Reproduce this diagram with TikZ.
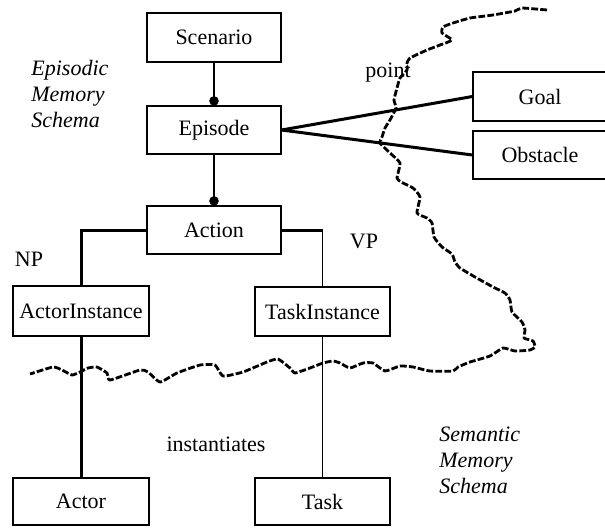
\documentclass[tikz,border=0pt]{standalone}
\usepackage{fontspec}
\setmainfont{Liberation Serif}
\usetikzlibrary{calc}
\begin{document}
\begin{tikzpicture}[x=0.5pt,y=-0.5pt,
  font=\fontsize{11}{13}\selectfont,
  box/.style={draw, line width=0.6pt, fill=white, inner sep=0pt,
              minimum width=67pt, minimum height=24pt},
  thinlink/.style={line width=0.6pt},
  thicklink/.style={line width=1.5pt},
  joint/.style={fill=black},
  label/.style={inner sep=0pt},
  schema/.style={inner sep=0pt, align=left, anchor=west,
                 font=\fontsize{11}{13}\selectfont\itshape},
  boundary/.style={line width=1.4pt, dash pattern=on 3.4pt off 1.1pt,
                   line join=round}]
\clip (0,0) rectangle (605,527);

% entity boxes
\node[box, minimum height=24.5pt] (scenario) at (214,37.5) {Scenario};
\node[box] (episode) at (214,130) {Episode};
\node[box] (action) at (214,230) {Action};
\node[box, minimum width=68pt, minimum height=25pt] (actorinst) at (81,311) {ActorInstance};
\node[box, minimum width=67.5pt, minimum height=24.5pt] (taskinst) at (322.5,311.5) {TaskInstance};
\node[box, minimum width=68pt, minimum height=23.5pt] (actor) at (81,501.5) {Actor};
\node[box, minimum width=67.5pt, minimum height=23.5pt] (task) at (322.5,501.5) {Task};
\node[box, minimum width=67pt, minimum height=24.5pt] (goal) at (540,96.5) {Goal};
\node[box, minimum width=67pt, minimum height=24pt] (obstacle) at (540,155) {Obstacle};

% composition links with filled joints
\draw[thinlink] (scenario.south) -- (episode.north);
\fill[joint] ($(episode.north)+(0,-4.5)$) circle[radius=4.8];
\draw[thinlink] (episode.south) -- (action.north);
\fill[joint] ($(action.north)+(0,-4.5)$) circle[radius=4.8];

% episode points to goal and obstacle
\draw[thicklink] (episode.east) -- (goal.west);
\draw[thicklink] (episode.east) -- (obstacle.west);

% action decomposition
\coordinate (vpcorner) at (action.east -| taskinst.north);
\draw[thicklink] (action.west) -| (actorinst.north);
\draw[thicklink] (action.east) -- (vpcorner);
\draw[thinlink] (vpcorner) -- (taskinst.north);

% instantiation links
\draw[thicklink] (actorinst.south) -- (actor.north);
\draw[thinlink] (taskinst.south) -- (task.north);

% labels
\node[label] (pointlbl) at (388,73) {point};
\node[label] (nplbl) at (29,259.5) {NP};
\node[label] (vplbl) at (364,241) {VP};
\node[label] (instlbl) at (216,444) {instantiates};
\node[schema] (episodic) at (31,93.5) {Episodic\\Memory\\Schema};
\node[schema] (semantic) at (439,460) {Semantic\\Memory\\Schema};

% boundary between episodic and semantic memory
\draw[boundary] plot[smooth, tension=0.3] coordinates {
  (547,10) (522,8) (515,11) (493,15) (470,18) (453,23) (443,27) (442,33)
  (452,40) (440,45) (427,50) (410,58) (407,63) (407,70) (400,78) (397,88)
  (394,100) (396,108) (390,120) (385,128) (382,137) (380,143) (390,153)
  (400,163) (397,178) (401,182) (413,188) (420,197) (417,213) (427,218)
  (432,223) (434,237) (442,247) (452,254) (455,262) (460,268) (475,277)
  (493,287) (505,293) (510,300) (512,312) (522,322) (525,330) (524,338)
  (533,341) (535,347) (530,350) (515,351) (503,348) (490,356) (470,362)
  (458,367) (453,371) (430,371) (413,367) (400,366) (385,371) (373,363)
  (363,363) (350,368) (340,363) (333,361) (323,363) (310,368) (295,373)
  (290,368) (278,359) (267,362) (243,372) (223,376) (215,365) (200,365)
  (177,373) (160,382) (148,372) (140,370) (110,380) (107,373) (97,367)
  (88,368) (80,372) (72,375) (62,370) (53,367) (30,374)};
\end{tikzpicture}
\end{document}
